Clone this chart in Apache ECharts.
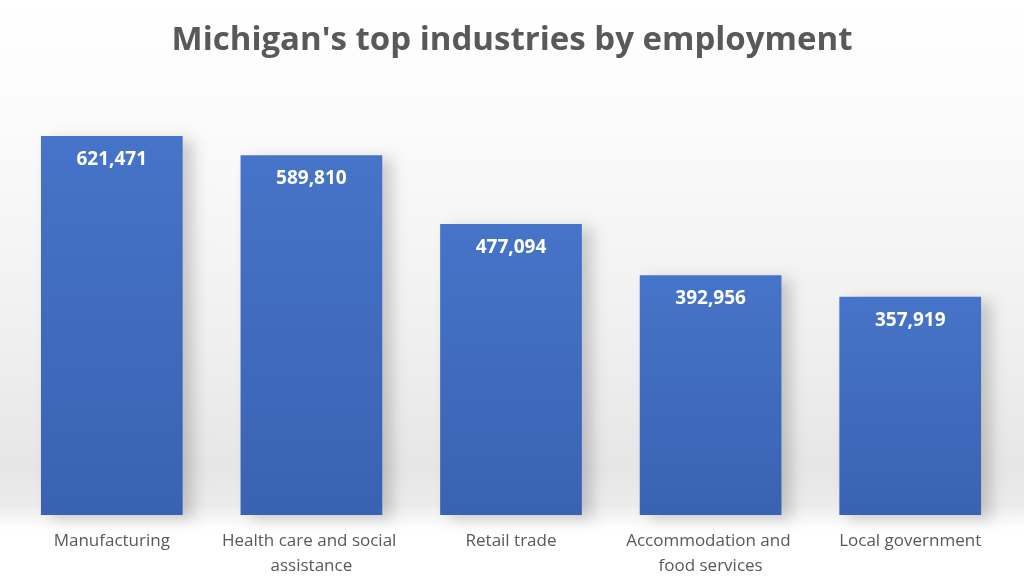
<!DOCTYPE html>
<html>
<head>
<meta charset="utf-8">
<script src="https://cdn.jsdelivr.net/npm/echarts@6/dist/echarts.min.js"></script>
<style>
html,body{margin:0;padding:0;}
body{background:linear-gradient(to bottom,#ffffff 0px,#fbfbfb 120px,#f0f0f0 330px,#e6e6e6 470px,#ececec 505px,#ffffff 530px,#ffffff 584px);}
#c{width:1024px;height:584px;}
</style>
</head>
<body>
<div id="c"></div>
<script>
const categories = ["Manufacturing", "Health care and social assistance", "Retail trade", "Accommodation and food services", "Local government"];
const employment = [621471, 589810, 477094, 392956, 357919];
const titleText = "Michigan's top industries by employment";

const chart = echarts.init(document.getElementById('c'));
chart.setOption({
  backgroundColor: 'transparent',
  animation: false,
  title: {
    text: titleText,
    left: 'center',
    top: 19,
    textStyle: {fontFamily: 'Open Sans', fontWeight: 'bold', fontSize: 33, color: '#595959'}
  },
  grid: {left: 12, right: 14, top: 88, bottom: 69},
  xAxis: {
    type: 'category',
    data: categories,
    axisLine: {show: false},
    axisTick: {show: false},
    axisLabel: {
      interval: 0,
      margin: 14,
      width: 190,
      overflow: 'break',
      fontFamily: 'Open Sans',
      fontSize: 17,
      lineHeight: 25,
      color: '#595959'
    }
  },
  yAxis: {
    type: 'value',
    min: 0,
    max: 700000,
    show: false,
    splitLine: {show: false}
  },
  series: [{
    type: 'bar',
    data: employment,
    barCategoryGap: '29%',
    itemStyle: {
      color: new echarts.graphic.LinearGradient(0, 0, 0, 1, [
        {offset: 0, color: '#4674C8'},
        {offset: 1, color: '#3A62B2'}
      ]),
      shadowColor: 'rgba(0,0,0,0.18)',
      shadowBlur: 14,
      shadowOffsetX: 10,
      shadowOffsetY: 4
    },
    label: {
      show: true,
      position: 'insideTop',
      distance: 14,
      fontFamily: 'Open Sans',
      fontWeight: 'bold',
      fontSize: 19,
      color: '#ffffff',
      formatter: p => p.value.toLocaleString('en-US')
    }
  }]
});
</script>
</body>
</html>
